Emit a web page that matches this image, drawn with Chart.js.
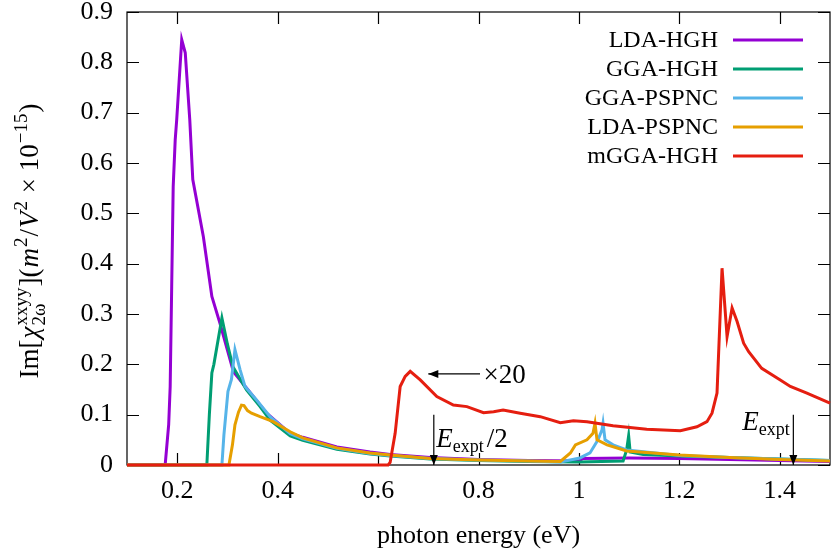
<!DOCTYPE html>
<html>
<head>
<meta charset="utf-8">
<script src="https://cdn.jsdelivr.net/npm/chart.js@4.4.0/dist/chart.umd.min.js"></script>
<style>html,body{margin:0;padding:0;background:#fff}canvas{display:block}</style>
</head>
<body>
<canvas id="chart" width="831" height="556"></canvas>
<script>
// axis ticks
const xTicks = [0.2, 0.4, 0.6, 0.8, 1, 1.2, 1.4];
const yTicks = [0, 0.1, 0.2, 0.3, 0.4, 0.5, 0.6, 0.7, 0.8, 0.9];
const seriesNames = ['LDA-HGH', 'GGA-HGH', 'GGA-PSPNC', 'LDA-PSPNC', 'mGGA-HGH'];

// LDA-HGH
const ldaHghX = [0.1, 0.176, 0.183, 0.186, 0.189, 0.192, 0.196, 0.199, 0.209, 0.216, 0.225, 0.231, 0.252, 0.269, 0.285, 0.312, 0.338, 0.378, 0.425, 0.45, 0.518, 0.584, 0.624, 0.704, 0.8, 0.9, 1.0, 1.008, 1.1, 1.2, 1.3, 1.4, 1.5];
const ldaHghY = [0, 0, 0.08, 0.156, 0.354, 0.553, 0.646, 0.686, 0.845, 0.819, 0.686, 0.567, 0.454, 0.335, 0.282, 0.185, 0.153, 0.103, 0.063, 0.055, 0.036, 0.026, 0.021, 0.015, 0.011, 0.009, 0.008, 0.013, 0.014, 0.013, 0.011, 0.009, 0.007];
// GGA-HGH
const ggaHghX = [0.1, 0.259, 0.264, 0.269, 0.273, 0.289, 0.3, 0.311, 0.338, 0.365, 0.385, 0.425, 0.45, 0.518, 0.584, 0.624, 0.704, 0.8, 0.9, 1.0, 1.088, 1.095, 1.099, 1.102, 1.128, 1.2, 1.3, 1.4, 1.5];
const ggaHghY = [0, 0, 0.1, 0.183, 0.2, 0.292, 0.24, 0.195, 0.149, 0.116, 0.089, 0.058, 0.049, 0.031, 0.022, 0.018, 0.012, 0.009, 0.007, 0.006, 0.008, 0.03, 0.058, 0.026, 0.021, 0.018, 0.015, 0.012, 0.009];
// GGA-PSPNC
const ggaPspncX = [0.1, 0.289, 0.293, 0.301, 0.308, 0.315, 0.325, 0.335, 0.358, 0.385, 0.425, 0.45, 0.518, 0.584, 0.624, 0.704, 0.8, 0.9, 0.963, 1.002, 1.022, 1.038, 1.046, 1.048, 1.052, 1.068, 1.095, 1.2, 1.3, 1.4, 1.5];
const ggaPspncY = [0, 0, 0.06, 0.146, 0.17, 0.229, 0.19, 0.156, 0.129, 0.096, 0.062, 0.052, 0.033, 0.023, 0.019, 0.013, 0.01, 0.008, 0.006, 0.014, 0.024, 0.05, 0.07, 0.083, 0.05, 0.04, 0.03, 0.019, 0.015, 0.012, 0.009];
// LDA-PSPNC
const ldaPspncX = [0.1, 0.303, 0.31, 0.315, 0.322, 0.328, 0.333, 0.34, 0.348, 0.365, 0.391, 0.425, 0.45, 0.518, 0.584, 0.624, 0.704, 0.8, 0.9, 0.963, 0.983, 0.993, 1.016, 1.028, 1.032, 1.036, 1.056, 1.095, 1.148, 1.2, 1.3, 1.4, 1.5];
const ldaPspncY = [0, 0, 0.04, 0.08, 0.105, 0.119, 0.118, 0.108, 0.103, 0.096, 0.086, 0.066, 0.054, 0.034, 0.024, 0.02, 0.013, 0.01, 0.008, 0.007, 0.024, 0.04, 0.05, 0.063, 0.083, 0.05, 0.04, 0.028, 0.024, 0.02, 0.015, 0.011, 0.008];
// mGGA-HGH (x20)
const mggaHghX = [0.1, 0.62, 0.624, 0.634, 0.644, 0.654, 0.664, 0.684, 0.717, 0.75, 0.777, 0.81, 0.83, 0.849, 0.883, 0.923, 0.963, 0.989, 1.016, 1.068, 1.135, 1.202, 1.235, 1.255, 1.265, 1.275, 1.285, 1.295, 1.305, 1.315, 1.328, 1.338, 1.364, 1.401, 1.421, 1.454, 1.5];
const mggaHghY = [0, 0, 0.005, 0.063, 0.156, 0.176, 0.186, 0.169, 0.136, 0.119, 0.116, 0.104, 0.106, 0.109, 0.103, 0.096, 0.084, 0.088, 0.086, 0.078, 0.071, 0.068, 0.076, 0.086, 0.103, 0.143, 0.391, 0.255, 0.312, 0.285, 0.242, 0.225, 0.192, 0.169, 0.156, 0.143, 0.123];

const SERIF = '"Liberation Serif", "DejaVu Serif", serif';
const colors = ['#9400d3', '#009e73', '#56b4e9', '#e69f00', '#e51e10'];
const series = [[ldaHghX, ldaHghY], [ggaHghX, ggaHghY], [ggaPspncX, ggaPspncY], [ldaPspncX, ldaPspncY], [mggaHghX, mggaHghY]];
const fmt = v => String(Number(v.toFixed(1)));

// boxed axes with inward ticks on all four sides
const frame = {
  id: 'frame',
  beforeDatasetsDraw(chart){
    const {ctx, chartArea: a, scales: {x, y}} = chart;
    ctx.save();
    ctx.strokeStyle = '#000'; ctx.lineWidth = 1.2;
    ctx.strokeRect(a.left, a.top, a.right - a.left, a.bottom - a.top);
    ctx.beginPath();
    for (const v of xTicks){
      const px = Math.round(x.getPixelForValue(v)) + 0.5;
      ctx.moveTo(px, a.bottom); ctx.lineTo(px, a.bottom - 12);
      ctx.moveTo(px, a.top); ctx.lineTo(px, a.top + 12);
    }
    for (const v of yTicks){
      const py = Math.round(y.getPixelForValue(v)) + 0.5;
      ctx.moveTo(a.left, py); ctx.lineTo(a.left + 12, py);
      ctx.moveTo(a.right, py); ctx.lineTo(a.right - 12, py);
    }
    ctx.stroke();
    ctx.restore();
  }
};

function arrowHead(ctx, x0, y0, x1, y1){
  const ang = Math.atan2(y1 - y0, x1 - x0), L = 10, W = 4;
  ctx.beginPath();
  ctx.moveTo(x1, y1);
  ctx.lineTo(x1 - L*Math.cos(ang) + W*Math.sin(ang), y1 - L*Math.sin(ang) - W*Math.cos(ang));
  ctx.lineTo(x1 - L*Math.cos(ang) - W*Math.sin(ang), y1 - L*Math.sin(ang) + W*Math.cos(ang));
  ctx.closePath(); ctx.fill();
}

// arrows and labels, in data coordinates
const notes = {
  id: 'notes',
  afterDatasetsDraw(chart){
    const {ctx, scales: {x, y}} = chart;
    const P = (a, b) => [x.getPixelForValue(a), y.getPixelForValue(b)];
    ctx.save();
    ctx.strokeStyle = '#000'; ctx.fillStyle = '#000'; ctx.lineWidth = 1.2;
    const arrows = [[0.803, 0.181, 0.700, 0.181], [0.711, 0.1, 0.711, 0], [1.427, 0.1, 1.427, 0]];
    for (const [a, b, c, d] of arrows){
      const [x0, y0] = P(a, b), [x1, y1] = P(c, d);
      ctx.beginPath(); ctx.moveTo(x0, y0); ctx.lineTo(x1, y1); ctx.stroke();
      arrowHead(ctx, x0, y0, x1, y1);
    }
    ctx.textBaseline = 'alphabetic';
    // x20
    let [tx, ty] = P(0.81, 0.181);
    ctx.font = `27px ${SERIF}`; ctx.textAlign = 'left';
    ctx.fillText('\u00d720', tx, ty + 9);
    // E_expt/2
    [tx, ty] = P(0.716, 0.036);
    ctx.font = `italic 27px ${SERIF}`; ctx.fillText('E', tx, ty);
    let w = ctx.measureText('E').width;
    ctx.font = `18px ${SERIF}`; ctx.fillText('expt', tx + w, ty + 5);
    w += ctx.measureText('expt').width + 3;
    ctx.font = `27px ${SERIF}`; ctx.fillText('/2', tx + w, ty);
    // E_expt
    [tx, ty] = P(1.42, 0.07);
    ctx.font = `18px ${SERIF}`; const ws = ctx.measureText('expt').width;
    ctx.fillText('expt', tx - ws, ty + 5);
    ctx.font = `italic 27px ${SERIF}`; ctx.textAlign = 'right';
    ctx.fillText('E', tx - ws, ty);
    ctx.restore();
  }
};

// legend: label right aligned, sample line to the right
const keyBox = {
  id: 'keyBox',
  afterDraw(chart){
    const {ctx, chartArea: a} = chart;
    ctx.save();
    ctx.font = `24px ${SERIF}`; ctx.textAlign = 'right'; ctx.textBaseline = 'middle';
    seriesNames.forEach((n, i) => {
      const yy = a.top + 28 + i*29;
      ctx.fillStyle = '#000'; ctx.fillText(n, a.right - 112, yy + 1);
      ctx.strokeStyle = colors[i]; ctx.lineWidth = 3;
      ctx.beginPath(); ctx.moveTo(a.right - 97, yy); ctx.lineTo(a.right - 27, yy); ctx.stroke();
    });
    ctx.restore();
  }
};

// rotated y title with sub/superscripts
const yTitle = {
  id: 'yTitle',
  afterDraw(chart){
    const {ctx, chartArea: a} = chart;
    const big = 27, small = 19;
    const parts = [
      {t: 'Im[', f: `${big}px ${SERIF}`, dy: 0},
      {t: '\u03c7', f: `italic ${big}px ${SERIF}`, dy: 0},
      {t: 'xxyy', f: `${small}px ${SERIF}`, dy: -11, stack: {t: '2\u03c9', f: `${small}px ${SERIF}`, dy: 7}},
      {t: '](', f: `${big}px ${SERIF}`, dy: 0},
      {t: 'm', f: `italic ${big}px ${SERIF}`, dy: 0},
      {t: '2', f: `${small}px ${SERIF}`, dy: -11},
      {t: '/', f: `${big}px ${SERIF}`, dy: 0},
      {t: 'V', f: `italic ${big}px ${SERIF}`, dy: 0},
      {t: '2', f: `${small}px ${SERIF}`, dy: -11},
      {t: ' \u00d7 10', f: `${big}px ${SERIF}`, dy: 0},
      {t: '\u221215', f: `${small}px ${SERIF}`, dy: -11},
      {t: ')', f: `${big}px ${SERIF}`, dy: 0}
    ];
    ctx.save();
    let total = 0;
    for (const p of parts){
      ctx.font = p.f; p.w = ctx.measureText(p.t).width;
      if (p.stack){ ctx.font = p.stack.f; p.w = Math.max(p.w, ctx.measureText(p.stack.t).width); }
      total += p.w + 1;
    }
    ctx.translate(38, (a.top + a.bottom)/2 + 2);
    ctx.rotate(-Math.PI/2);
    ctx.fillStyle = '#000'; ctx.textAlign = 'left'; ctx.textBaseline = 'alphabetic';
    let cx = -total/2;
    for (const p of parts){
      ctx.font = p.f; ctx.fillText(p.t, cx, p.dy);
      if (p.stack){ ctx.font = p.stack.f; ctx.fillText(p.stack.t, cx, p.stack.dy); }
      cx += p.w + 1;
    }
    ctx.restore();
  }
};

new Chart(document.getElementById('chart'), {
  type: 'line',
  data: {
    datasets: series.map(([xs, ys], i) => ({
      label: seriesNames[i],
      data: xs.map((v, j) => ({x: v, y: ys[j]})),
      borderColor: colors[i], backgroundColor: colors[i],
      borderWidth: 3, pointRadius: 0, tension: 0, fill: false,
      order: 5 - i, clip: 3
    }))
  },
  options: {
    responsive: false, animation: false,
    layout: {padding: {top: 12, right: 1, left: 0, bottom: 0}},
    plugins: {legend: {display: false}, tooltip: {enabled: false}},
    scales: {
      x: {
        type: 'linear', min: 0.1, max: 1.5,
        afterBuildTicks: s => { s.ticks = xTicks.map(v => ({value: v})); },
        afterFit: s => { s.height = 91; s.paddingLeft = 0; s.paddingRight = 0; },
        grid: {display: false, drawTicks: false}, border: {display: false},
        ticks: {color: '#000', font: {family: SERIF, size: 26}, padding: 11, maxRotation: 0, autoSkip: false, callback: v => fmt(v)},
        title: {display: true, text: 'photon energy (eV)', color: '#000', font: {family: SERIF, size: 26}, padding: {top: 8}}
      },
      y: {
        min: 0, max: 0.9,
        afterBuildTicks: s => { s.ticks = yTicks.map(v => ({value: v})); },
        afterFit: s => { s.width = 127; s.paddingTop = 0; s.paddingBottom = 0; },
        grid: {display: false, drawTicks: false}, border: {display: false},
        ticks: {color: '#000', font: {family: SERIF, size: 26}, padding: 14, autoSkip: false, callback: v => fmt(v)}
      }
    }
  },
  plugins: [frame, notes, keyBox, yTitle]
});
</script>
</body>
</html>
